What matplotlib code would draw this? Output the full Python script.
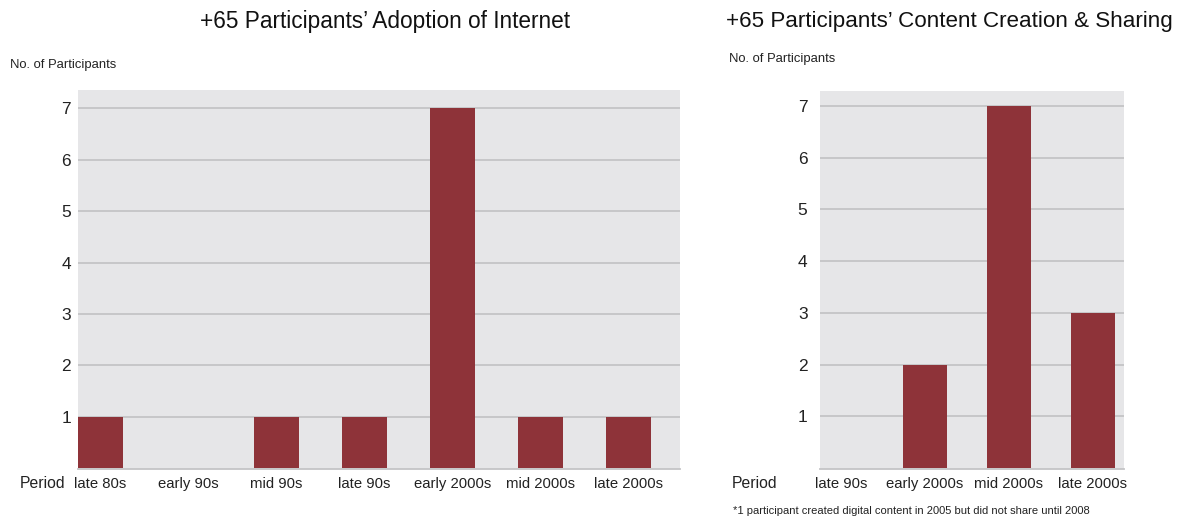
import matplotlib
matplotlib.use("Agg")
import matplotlib.pyplot as plt

plt.rcParams['font.family'] = ['Liberation Sans', 'DejaVu Sans']

left_title = "+65 Participants\u2019 Adoption of Internet"
left_cats = ["late 80s", "early 90s", "mid 90s", "late 90s", "early 2000s", "mid 2000s", "late 2000s"]
left_vals = [1, 0, 1, 1, 7, 1, 1]

right_title = "+65 Participants\u2019 Content Creation & Sharing"
right_cats = ["late 90s", "early 2000s", "mid 2000s", "late 2000s"]
right_vals = [0, 2, 7, 3]

yticks = [1, 2, 3, 4, 5, 6, 7]
footnote = "*1 participant created digital content in 2005 but did not share until 2008"

BAR = "#8e3339"
BG = "#e6e6e8"
GRID = "#c4c4c6"

W, H = 1181, 519
fig = plt.figure(figsize=(W / 100, H / 100), dpi=100)


def px_rect(x0, x1, ytop, ybot):
    return [x0 / W, 1 - ybot / H, (x1 - x0) / W, (ybot - ytop) / H]


def style(ax, cats, vals, width, xlim, ylim, ypad):
    ax.set_facecolor(BG)
    x = list(range(len(cats)))
    ax.bar(x, vals, width=width, color=BAR, zorder=3)
    ax.set_xlim(*xlim)
    ax.set_ylim(*ylim)
    ax.set_yticks(yticks)
    ax.set_yticklabels([str(t) for t in yticks], fontsize=12.5, color="#222222")
    ax.set_xticks(x)
    ax.set_xticklabels(cats, fontsize=10.7, color="#222222")
    ax.tick_params(axis="both", length=0)
    ax.tick_params(axis="y", pad=ypad)
    ax.tick_params(axis="x", pad=6)
    ax.grid(axis="y", color=GRID, linewidth=1.3, zorder=1)
    for s in ["top", "right", "left"]:
        ax.spines[s].set_visible(False)
    ax.spines["bottom"].set_color(GRID)
    ax.spines["bottom"].set_linewidth(1.3)


ax1 = fig.add_axes(px_rect(78, 680, 90, 469))
style(ax1, left_cats, left_vals, 0.51, (-0.256, 6.585), (-0.02, 7.36), 5)

ax2 = fig.add_axes(px_rect(820, 1124, 91, 469))
style(ax2, right_cats, right_vals, 0.52, (-0.25, 3.37), (-0.02, 7.29), 9)

fig.text(385 / W, 1 - 22 / H, left_title, ha="center", va="center", fontsize=16.3, color="#111111")
fig.text(949 / W, 1 - 22 / H, right_title, ha="center", va="center", fontsize=16.1, color="#111111")
fig.text(10 / W, 1 - 65 / H, "No. of Participants", ha="left", va="center", fontsize=9.4, color="#222222")
fig.text(729 / W, 1 - 59 / H, "No. of Participants", ha="left", va="center", fontsize=9.4, color="#222222")
fig.text(20 / W, 1 - 483 / H, "Period", ha="left", va="center", fontsize=11.3, color="#222222")
fig.text(732 / W, 1 - 483 / H, "Period", ha="left", va="center", fontsize=11.3, color="#222222")
fig.text(733 / W, 1 - 511 / H, footnote, ha="left", va="center", fontsize=8.05, color="#222222")

fig.savefig("out.png", dpi=100)
